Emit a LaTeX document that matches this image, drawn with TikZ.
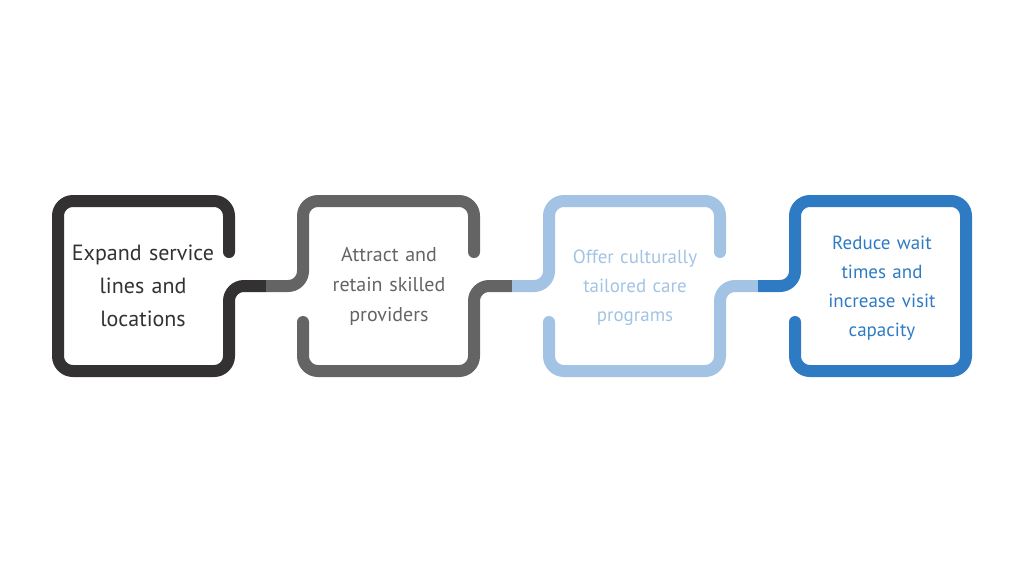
\documentclass[tikz,border=0pt]{standalone}
\usepackage{fontspec}
\setmainfont{PT Sans}
\definecolor{cA}{HTML}{333132}
\definecolor{cB}{HTML}{646464}
\definecolor{cC}{HTML}{A3C3E4}
\definecolor{cD}{HTML}{2E7BC4}
\tikzset{seg/.style={line width=12pt,line cap=butt,rounded corners=15pt},
 txt/.style={align=center,text width=150pt,font=\fontsize{20}{30}\selectfont}}
\begin{document}
\begin{tikzpicture}[x=1pt,y=-1pt]
\useasboundingbox (0,0) rectangle (1024,576);
\def\cy{286}
% box 1
\draw[seg,cA] (229,252) -- (229,201) -- (58,201) -- (58,371) -- (229,371) -- (229,\cy) -- (266,\cy);
\fill[cA] (229,252) circle (6pt);
% box 2
\draw[seg,cB] (266,\cy) -- (303,\cy) -- (303,201) -- (474,201) -- (474,252);
\draw[seg,cB] (303,322) -- (303,371) -- (474,371) -- (474,\cy) -- (512,\cy);
\fill[cB] (474,252) circle (6pt) (303,322) circle (6pt);
% box 3
\draw[seg,cC] (512,\cy) -- (549,\cy) -- (549,201) -- (720,201) -- (720,252);
\draw[seg,cC] (549,322) -- (549,371) -- (720,371) -- (720,\cy) -- (758,\cy);
\fill[cC] (720,252) circle (6pt) (549,322) circle (6pt);
% box 4
\draw[seg,cD] (758,\cy) -- (795,\cy) -- (795,201) -- (966,201) -- (966,371) -- (795,371) -- (795,322);
\fill[cD] (795,322) circle (6pt);
\node[txt,cA,font=\fontsize{22}{33}\selectfont] (t1) at (143,286) {Expand service\\lines and\\locations};
\node[txt,cB] (t2) at (389,286) {Attract and\\retain skilled\\providers};
\node[txt,cC,font=\fontsize{19}{29}\selectfont] (t3) at (635,288) {Offer culturally\\tailored care\\programs};
\node[txt,cD,font=\fontsize{19}{29}\selectfont] (t4) at (882,288) {Reduce wait\\times and\\increase visit\\capacity};
\end{tikzpicture}
\end{document}
